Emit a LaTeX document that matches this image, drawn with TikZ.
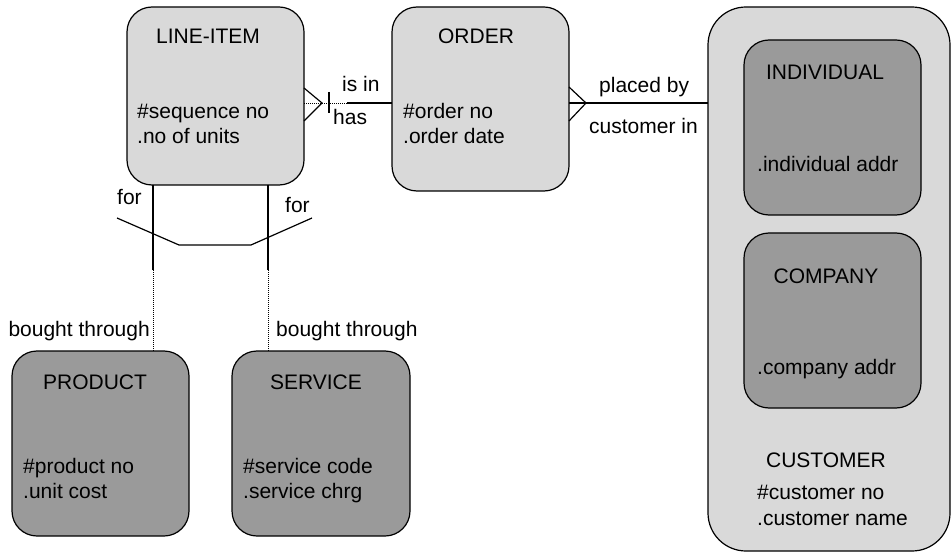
\documentclass[tikz,border=0pt]{standalone}
\usepackage{fontspec}
\setmainfont{Liberation Sans}
\definecolor{lightg}{HTML}{D9D9D9}
\definecolor{darkg}{HTML}{9A9A9A}
\newcommand\diagfont{\fontsize{21}{25}\selectfont}
\begin{document}
\begin{tikzpicture}[x=1pt,y=-1pt,
  ent/.style={draw=black, line width=1.2pt, rounded corners=25pt, inner sep=0pt, outer sep=0pt},
  lightbox/.style={ent, fill=lightg},
  darkbox/.style={ent, fill=darkg},
  txt/.style={inner sep=0pt, anchor=base west, font=\diagfont},
  ttl/.style={inner sep=0pt, anchor=base, font=\diagfont},
  conn/.style={line width=1.2pt},
  dotline/.style={line width=0.9pt, dash pattern=on 1pt off 1pt}
]
\path[use as bounding box] (0,0) rectangle (952,553);

% entity boxes
\node[lightbox, minimum width=177pt, minimum height=178pt] (li) at (215.5,96) {};
\node[lightbox, minimum width=177pt, minimum height=184pt] (ord) at (480.5,99) {};
\node[lightbox, rounded corners=38pt, minimum width=242pt, minimum height=544pt] (cust) at (829,279) {};
\node[darkbox, minimum width=177pt, minimum height=175pt] (ind) at (832.5,127.5) {};
\node[darkbox, minimum width=177pt, minimum height=175pt] (comp) at (832.5,320.5) {};
\node[darkbox, minimum width=177pt, minimum height=185pt] (prod) at (100.5,443.5) {};
\node[darkbox, minimum width=178pt, minimum height=185pt] (serv) at (321,443.5) {};

% texts
\node[ttl] (liT) at (208,44) {LINE-ITEM};
\node[txt] (liA) at (137,119) {\#sequence no};
\node[txt] (liB) at (137,144) {.no of units};
\node[ttl] (ordT) at (476,44) {ORDER};
\node[txt] (ordA) at (403,119) {\#order no};
\node[txt] (ordB) at (403,144) {.order date};
\node[ttl] (indT) at (825,80) {INDIVIDUAL};
\node[txt] (indA) at (757,172) {.individual addr};
\node[ttl] (compT) at (826,283) {COMPANY};
\node[txt] (compA) at (757,374) {.company addr};
\node[ttl] (custT) at (826,467) {CUSTOMER};
\node[txt] (custA) at (757,499) {\#customer no};
\node[txt] (custB) at (757,525) {.customer name};
\node[ttl] (prodT) at (95,389) {PRODUCT};
\node[txt] (prodA) at (23,473) {\#product no};
\node[txt] (prodB) at (23,498) {.unit cost};
\node[ttl] (servT) at (316,389) {SERVICE};
\node[txt] (servA) at (243,473) {\#service code};
\node[txt] (servB) at (243,498) {.service chrg};

% LINE-ITEM -- ORDER
\coordinate (a1) at (347,103);
\coordinate (cf1) at (322,103);
\coordinate (p1) at (304,88);
\coordinate (p2) at (304,121);
\coordinate (b1) at (329,92);
\coordinate (b2) at (329,113);
\draw[dotline] (li.east |- a1) -- (a1);
\draw[conn] (a1) -- (ord.west |- a1);
\draw[conn] (p1) -- (cf1) -- (p2);
\draw[conn] (b1) -- (b2);
\node[txt] (isin) at (342,92) {is in};
\node[txt] (has) at (333,125) {has};

% ORDER -- CUSTOMER
\coordinate (cf2) at (586,103);
\coordinate (q1) at (569,87);
\coordinate (q2) at (569,121);
\draw[conn] (ord.east |- cf2) -- (cust.west |- cf2);
\draw[conn] (q1) -- (cf2) -- (q2);
\node[txt] (plc) at (599,93) {placed by};
\node[txt] (cin) at (589,134) {customer in};

% LINE-ITEM -- PRODUCT / SERVICE
\coordinate (v1) at (153,270);
\coordinate (v2) at (268,270);
\draw[conn] (li.south -| v1) -- (v1);
\draw[dotline] (v1) -- (prod.north -| v1);
\draw[conn] (li.south -| v2) -- (v2);
\draw[dotline] (v2) -- (serv.north -| v2);
\coordinate (e1) at (117,218);
\coordinate (e2) at (179,245);
\coordinate (e3) at (251,245);
\coordinate (e4) at (312,218);
\draw[conn] (e1) -- (e2) -- (e3) -- (e4);
\node[txt] (for1) at (117,205) {for};
\node[txt] (for2) at (285,213) {for};
\node[inner sep=0pt, anchor=base east, font=\diagfont] (bt1) at (150,336) {bought through};
\node[txt] (bt2) at (276,336) {bought through};
\end{tikzpicture}
\end{document}
